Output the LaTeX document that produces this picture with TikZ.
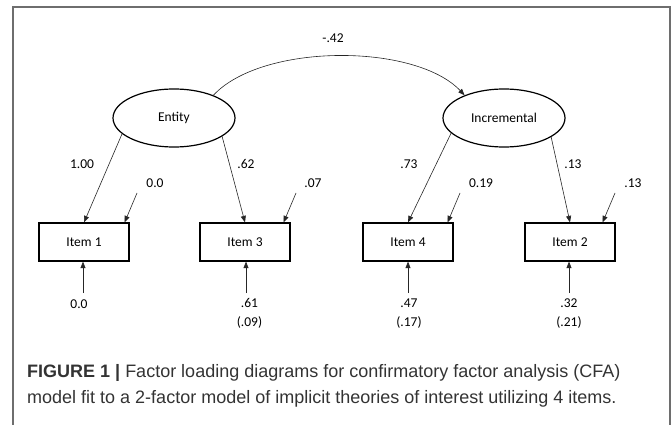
\documentclass[tikz,border=0pt]{standalone}
\usepackage{fontspec}
\setmainfont{Carlito}
\newfontfamily\capfont{Liberation Sans}
\usetikzlibrary{shapes.geometric,arrows.meta}
\definecolor{framegray}{HTML}{6E6E6E}
\definecolor{captext}{HTML}{333333}
\begin{document}
\begin{tikzpicture}[x=1pt,y=-1pt,
  latent/.style={ellipse, draw, line width=1.2pt, minimum width=122pt,
    minimum height=58pt, inner sep=0pt, font=\fontsize{13.5}{15}\selectfont},
  itembox/.style={rectangle, draw, line width=1.2pt, minimum width=90pt,
    minimum height=38pt, inner sep=0pt, font=\fontsize{13.5}{15}\selectfont},
  conn/.style={draw=black!85, line width=0.6pt,
    -{Triangle[length=6.5pt,width=5pt]}},
  lbl/.style={inner sep=0pt, font=\fontsize{13.5}{15}\selectfont},
  twolbl/.style={inner sep=0pt, align=center,
    font=\fontsize{13.5}{19}\selectfont},
  captionline/.style={anchor=base west, inner sep=0pt, text=captext,
    font=\capfont\fontsize{18}{20}\selectfont}
]
\useasboundingbox (0,0) rectangle (672,425);

% outer frame, open at the bottom
\draw[framegray, line width=1.4pt] (13,425) -- (13,7) -- (670,7) -- (670,425);

% latent factors
\node[latent] (ent) at (174,118) {Entity};
\node[latent] (inc) at (504,118) {Incremental};

% observed items
\node[itembox] (i1) at (84,242) {Item 1};
\node[itembox] (i3) at (245,242) {Item 3};
\node[itembox] (i4) at (408,242) {Item 4};
\node[itembox] (i2) at (570,242) {Item 2};

% factor covariance
\draw[conn] (ent.30) .. controls (262,43) and (415,43) .. (inc.150);
\node[lbl] (cov) at (333,38) {-.42};

% loadings
\draw[conn] (ent.197) -- (i1.north);
\draw[conn] (ent.339) -- (i3.north);
\draw[conn] (inc.196) -- (i4.north);
\draw[conn] (inc.338) -- (i2.north);
\node[lbl] (l1) at (82,164) {1.00};
\node[lbl] (l3) at (246,164) {.62};
\node[lbl] (l4) at (409,164) {.73};
\node[lbl] (l2) at (573,164) {.13};

% residual arrows
\coordinate (r1) at (137,193);
\coordinate (r3) at (296,193);
\coordinate (r4) at (460,193);
\coordinate (r2) at (615,193);
\draw[conn] (r1) -- ([xshift=-5pt]i1.north east);
\draw[conn] (r3) -- ([xshift=-7pt]i3.north east);
\draw[conn] (r4) -- ([xshift=-6pt]i4.north east);
\draw[conn] (r2) -- ([xshift=-13pt]i2.north east);
\node[lbl] (rl1) at (155,183) {0.0};
\node[lbl] (rl3) at (313,183) {.07};
\node[lbl] (rl4) at (481,183) {0.19};
\node[lbl] (rl2) at (633,183) {.13};

% intercept arrows
\coordinate (b1) at (83,293);
\coordinate (b3) at (246,293);
\coordinate (b4) at (408,293);
\coordinate (b2) at (569,293);
\draw[conn] (b1) -- (b1 |- i1.south);
\draw[conn] (b3) -- (b3 |- i3.south);
\draw[conn] (b4) -- (b4 |- i4.south);
\draw[conn] (b2) -- (b2 |- i2.south);
\node[lbl] (bl1) at (79,304) {0.0};
\node[twolbl] (bl3) at (249.5,313.5) {.61\\(.09)};
\node[twolbl] (bl4) at (409,313.5) {.47\\(.17)};
\node[twolbl] (bl2) at (569,313.5) {.32\\(.21)};

% caption
\node[captionline] (cap1) at (27,377)
  {\textbf{FIGURE 1 |} Factor loading diagrams for confirmatory factor analysis (CFA)};
\node[captionline] (cap2) at (27,403)
  {model fit to a 2-factor model of implicit theories of interest utilizing 4 items.};
\end{tikzpicture}
\end{document}
